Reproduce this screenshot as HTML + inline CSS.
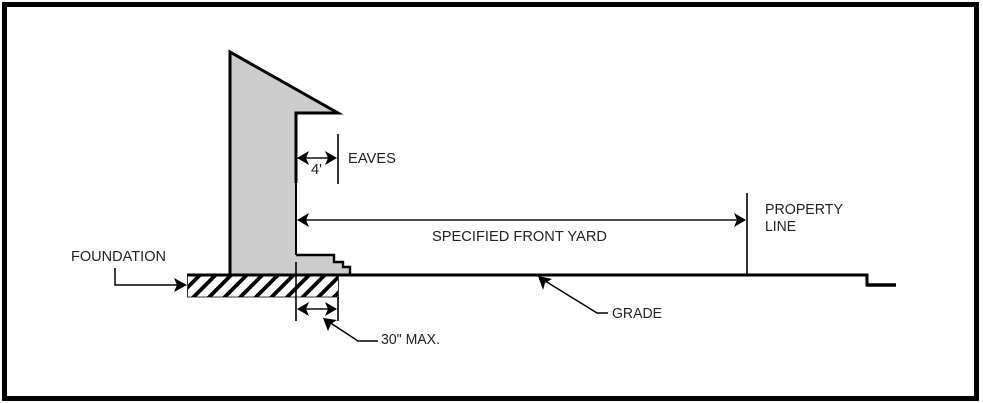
<!DOCTYPE html>
<html>
<head>
<meta charset="utf-8">
<style>
html,body{margin:0;padding:0;background:#fff;width:983px;height:403px;overflow:hidden}
svg{display:block}
text{font-family:"Liberation Sans",sans-serif;font-size:14.5px;fill:#222}
</style>
</head>
<body>
<svg width="983" height="403" viewBox="0 0 983 403" xmlns="http://www.w3.org/2000/svg">
<defs>
<clipPath id="c"><rect x="188" y="276" width="150" height="21"/></clipPath>
</defs>
<rect x="0" y="0" width="983" height="403" fill="#fff"/>
<rect x="4.500" y="4.500" width="972" height="394" fill="#fff" stroke="#000" stroke-width="5"/>

<!-- building -->
<path d="M230 52L338 113H296V255H334V262H343V267H350V275H230Z" fill="#cdcdcd"/>
<path d="M230 275V52L338 113H296V183" fill="none" stroke="#000" stroke-width="3"/>
<path d="M296 183V255" fill="none" stroke="#000" stroke-width="2"/>
<path d="M296 255H334V262H343V267H350V275" fill="none" stroke="#000" stroke-width="2.400"/>

<!-- foundation -->
<rect x="187.500" y="275.500" width="151" height="21.500" fill="#fff" stroke="#333" stroke-width="1"/>
<g clip-path="url(#c)" stroke="#000" stroke-width="3.800" fill="none">
<path d="M176 299L201 274M191.600 299L216.600 274M207.200 299L232.200 274M222.800 299L247.800 274M238.400 299L263.400 274M254 299L279 274M269.600 299L294.600 274M285.200 299L310.200 274M300.800 299L325.800 274M316.400 299L341.400 274M332 299L357 274"/>
</g>

<!-- grade -->
<path d="M187 275H867V285H896" fill="none" stroke="#000" stroke-width="3"/>
<path d="M867 285H896" fill="none" stroke="#000" stroke-width="3.500"/>

<!-- dimension lines -->
<path d="M296 262V321M338 297V321M338 134V184M747 193V275" stroke="#000" stroke-width="1.600" fill="none"/>
<path d="M298 309H336M298 158H336M298 220H745" stroke="#111" stroke-width="1.400" fill="none"/>

<!-- arrowheads -->
<path d="M297 309L309 302L306 309L309 316Z M337 309L325 302L328 309L325 316Z" fill="#000"/>
<path d="M297 158L309 151L306 158L309 165Z M337 158L325 151L328 158L325 165Z" fill="#000"/>
<path d="M297 220L309 213L306 220L309 227Z M746 220L734 213L737 220L734 227Z" fill="#000"/>

<!-- foundation leader -->
<path d="M115 268V285H178" fill="none" stroke="#000" stroke-width="1.500"/>
<path d="M187 285L174 278L177 285L174 292Z" fill="#000"/>

<!-- 30 max leader -->
<path d="M326 320L358 341H378" fill="none" stroke="#000" stroke-width="1.500"/>
<path d="M323 318L337 320L331 324L328 331Z" fill="#000"/>

<!-- grade leader -->
<path d="M542 279L597 313H608" fill="none" stroke="#000" stroke-width="1.500"/>
<path d="M538 276L552 279L545 283L543 290Z" fill="#000"/>

<!-- labels -->
<text x="71" y="261" textLength="95" lengthAdjust="spacingAndGlyphs">FOUNDATION</text>
<text x="348" y="163" textLength="48" lengthAdjust="spacingAndGlyphs">EAVES</text>
<text x="311" y="174" textLength="11" lengthAdjust="spacingAndGlyphs">4'</text>
<text x="432" y="241" textLength="175" lengthAdjust="spacingAndGlyphs">SPECIFIED FRONT YARD</text>
<text x="765" y="214" textLength="78" lengthAdjust="spacingAndGlyphs">PROPERTY</text>
<text x="765" y="231" textLength="31" lengthAdjust="spacingAndGlyphs">LINE</text>
<text x="612" y="318" textLength="50" lengthAdjust="spacingAndGlyphs">GRADE</text>
<text x="381" y="344" textLength="59" lengthAdjust="spacingAndGlyphs">30" MAX.</text>
</svg>
</body>
</html>
